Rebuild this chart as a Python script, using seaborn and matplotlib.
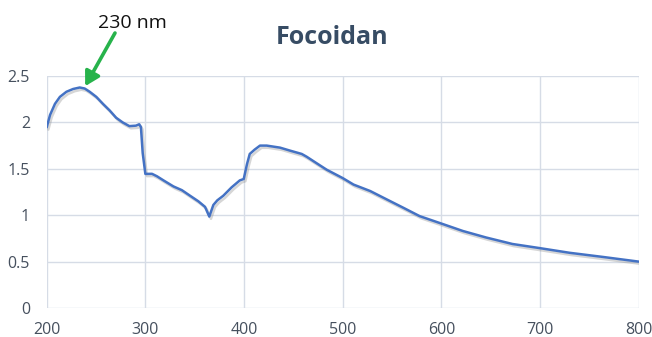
import matplotlib
matplotlib.use("Agg")
import matplotlib.pyplot as plt
import matplotlib.patheffects as pe
import seaborn as sns
import pandas as pd

# Absorbance spectrum of fucoidan (wavelength in nm)
wavelength = [200, 203.4, 208.4, 213.4, 220, 226.8, 233.5, 238.5, 243.6, 250.3,
              257, 263.7, 270.4, 277, 283.8, 290.5, 293.8, 295.5, 297.3, 300,
              306.7, 311.7, 318.4, 328.5, 337, 345.3, 353.7, 360.5, 364.8, 368.9,
              372.9, 379, 387.4, 395.7, 399.7, 403, 405.8, 410.8, 416.2, 423,
              436.5, 446.6, 458.5, 463.5, 473.6, 483.8, 500, 511, 528, 544.7,
              561.5, 578, 600, 621.8, 645.3, 672, 700, 730, 764, 800]
absorbance = [1.946, 2.08, 2.20, 2.275, 2.33, 2.36, 2.376, 2.365, 2.33, 2.275,
              2.20, 2.13, 2.05, 2.00, 1.96, 1.965, 1.98, 1.95, 1.67, 1.445,
              1.446, 1.42, 1.375, 1.31, 1.27, 1.21, 1.15, 1.09, 0.985, 1.11,
              1.16, 1.21, 1.30, 1.375, 1.39, 1.55, 1.66, 1.707, 1.75, 1.75,
              1.728, 1.696, 1.66, 1.63, 1.56, 1.49, 1.40, 1.33, 1.26, 1.17,
              1.08, 0.99, 0.91, 0.83, 0.76, 0.69, 0.645, 0.595, 0.55, 0.50]

x_ticks = [200, 300, 400, 500, 600, 700, 800]
y_ticks = [0, 0.5, 1, 1.5, 2, 2.5]
y_tick_labels = ["0", "0.5", "1", "1.5", "2", "2.5"]
title = "Focoidan"
peak_label = "230 nm"
peak_point = (239, 2.39)

df = pd.DataFrame({"wavelength": wavelength, "absorbance": absorbance})

sns.set_theme(style="white")
plt.rcParams["font.family"] = ["Open Sans", "DejaVu Sans"]

fig = plt.figure(figsize=(6.52, 3.37), dpi=100)
ax = fig.add_axes([0.0716, 0.086, 0.908, 0.6885])

sns.lineplot(data=df, x="wavelength", y="absorbance", ax=ax, color="#4472C4",
             linewidth=1.8, sort=False,
             path_effects=[pe.SimpleLineShadow(offset=(1.2, -1.6), shadow_color="#8a8a8a", alpha=0.35),
                           pe.Normal()])

ax.set_xlim(200, 800)
ax.set_ylim(0, 2.5)
ax.set_xticks(x_ticks)
ax.set_yticks(y_ticks)
ax.set_yticklabels(y_tick_labels)
ax.set_xlabel("")
ax.set_ylabel("")
ax.grid(True, color="#d6dce6", linewidth=1.0)
ax.set_axisbelow(True)
for s in ax.spines.values():
    s.set_visible(False)
ax.tick_params(axis="both", length=0, labelsize=11.5, labelcolor="#46505e")
ax.tick_params(axis="x", pad=10)
ax.tick_params(axis="y", pad=12)

fig.text(0.510, 0.889, title, ha="center", va="center", fontsize=18,
         fontweight="bold", color="#374c64")

ax.annotate(peak_label, xy=(132, 314), xycoords="figure pixels",
            fontsize=14, color="#111111", ha="center", va="center",
            annotation_clip=False)
ax.annotate("", xy=peak_point, xycoords="data",
            xytext=(115, 304), textcoords="figure pixels",
            arrowprops=dict(arrowstyle="-|>,head_length=0.7,head_width=0.4",
                            color="#27b34b", linewidth=2.6, shrinkA=0, shrinkB=0),
            annotation_clip=False)

fig.savefig("out.png", dpi=100)
